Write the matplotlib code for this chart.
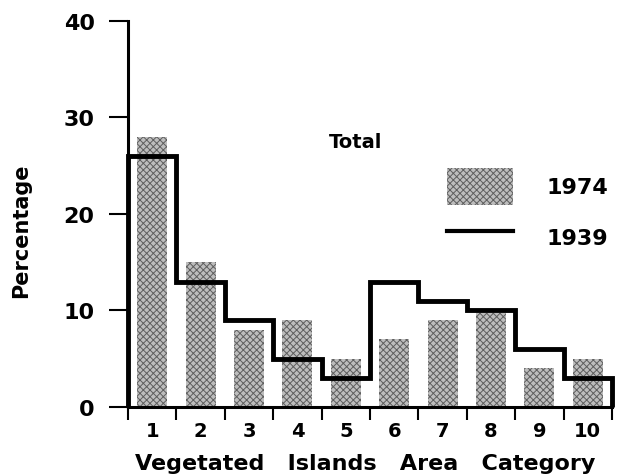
import matplotlib.pyplot as plt
import numpy as np
from matplotlib.patches import Patch
from matplotlib.lines import Line2D

# values (percent of vegetated islands per area category)
categories = np.arange(1, 11)
pct_1974 = [28, 15, 8, 9, 5, 7, 9, 9.7, 4, 5]
pct_1939 = [26, 13, 9, 5, 3, 13, 11, 10, 6, 3]
cat_labels = [str(c) for c in categories]

plt.rcParams['font.family'] = 'DejaVu Sans'
plt.rcParams['font.weight'] = 'bold'
plt.rcParams['axes.labelweight'] = 'bold'
plt.rcParams['hatch.linewidth'] = 0.7

fig = plt.figure(figsize=(6.25, 4.77), dpi=100)
ax = fig.add_axes([0.2048, 0.1447, 0.7744, 0.8093])

bar_fc = '#bdbdbd'
bar_hc = '#5e5e5e'
ax.bar(categories, pct_1974, width=0.62, color=bar_fc, edgecolor=bar_hc,
       hatch='xxxxx', linewidth=0)

edges = np.append(categories - 0.5, categories[-1] + 0.5)
ax.stairs(pct_1939, edges, baseline=0, color='black', lw=3.5, clip_on=False)

ax.set_xlim(0.5, 10.5)
ax.set_ylim(0, 40)

for s in ['top', 'right']:
    ax.spines[s].set_visible(False)
for s in ['left', 'bottom']:
    ax.spines[s].set_linewidth(2.2)

ax.set_yticks([0, 10, 20, 30, 40])
ax.tick_params(axis='y', direction='out', length=14, width=1.5, pad=10,
               labelsize=16)

ax.set_xticks(edges)
ax.set_xticklabels([])
ax.tick_params(axis='x', which='major', direction='out', length=9, width=1.5)
ax.set_xticks(categories, minor=True)
ax.set_xticklabels(cat_labels, minor=True)
ax.tick_params(axis='x', which='minor', length=0, pad=10, labelsize=14)

ax.set_ylabel('Percentage', fontsize=15)
ax.yaxis.set_label_coords(-0.2, 0.46)
ax.set_xlabel('Vegetated   Islands   Area   Category', fontsize=16)
ax.xaxis.set_label_coords(0.49, -0.12)

ax.text(5.2, 27.5, 'Total', ha='center', va='center', fontsize=14)

handles = [Patch(facecolor=bar_fc, edgecolor=bar_hc, hatch='xxxxx', lw=0),
           Line2D([], [], color='black', lw=3)]
ax.legend(handles, ['1974', '1939'], loc='upper left',
          bbox_to_anchor=(0.659, 0.62), frameon=False, fontsize=16,
          borderpad=0, borderaxespad=0, handlelength=2.97, handleheight=2.2,
          handletextpad=1.5, labelspacing=0.6)

fig.savefig('out.png', dpi=100)
